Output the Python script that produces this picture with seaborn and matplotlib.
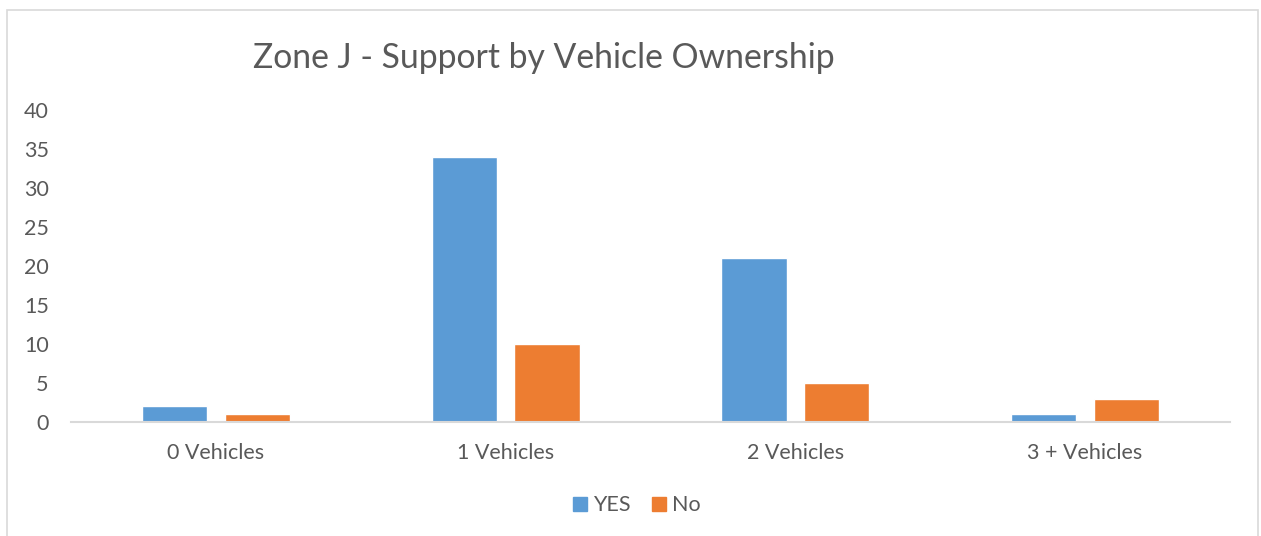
import pandas as pd
import matplotlib.pyplot as plt
import seaborn as sns
from matplotlib.patches import Rectangle, Patch

# data
categories = ['0 Vehicles', '1 Vehicles', '2 Vehicles', '3 + Vehicles']
yes_vals = [2, 34, 21, 1]
no_vals = [1, 10, 5, 3]

df = pd.DataFrame({
    'cat': categories * 2,
    'val': yes_vals + no_vals,
    'resp': ['YES'] * 4 + ['No'] * 4,
})

sns.set_theme(style='white')
plt.rcParams['font.family'] = ['Lato', 'DejaVu Sans']
txt = '#595959'
colors = {'YES': '#5B9BD5', 'No': '#ED7D31'}

fig = plt.figure(figsize=(12.61, 5.36), dpi=100)
ax = fig.add_axes([0.0563, 0.2127, 0.9191, 0.5821])
sns.barplot(data=df, x='cat', y='val', hue='resp', palette=colors,
            width=0.57, gap=0.21, ax=ax, legend=False, saturation=1)

ax.set_ylim(0, 40)
ax.set_yticks(range(0, 41, 5))
ax.set_xlim(-0.5, 3.5)
ax.set_xlabel('')
ax.set_ylabel('')
for s in ['left', 'right', 'top']:
    ax.spines[s].set_visible(False)
ax.spines['bottom'].set_color('#D9D9D9')
ax.spines['bottom'].set_linewidth(1.5)
ax.tick_params(axis='both', length=0, labelsize=15.5, colors=txt)
ax.tick_params(axis='x', pad=15)
ax.tick_params(axis='y', pad=16)

fig.text(0.2006, 0.892, 'Zone J - Support by Vehicle Ownership',
         fontsize=24.3, color=txt, va='center', ha='left')

handles = [Patch(color=colors['YES'], label='YES'), Patch(color=colors['No'], label='No')]
fig.legend(handles=handles, loc='center', bbox_to_anchor=(0.505, 0.057), ncol=2,
           frameon=False, fontsize=15.5, labelcolor=txt, handlelength=0.65,
           handleheight=0.65, handletextpad=0.3, columnspacing=1.0)

fig.patches.append(Rectangle((7 / 1261, -0.01), 1251 / 1261, (536 - 10) / 536 + 0.01,
                             transform=fig.transFigure, fill=False,
                             edgecolor='#D9D9D9', linewidth=1.2))

fig.savefig('out.png', dpi=100, facecolor='white')
